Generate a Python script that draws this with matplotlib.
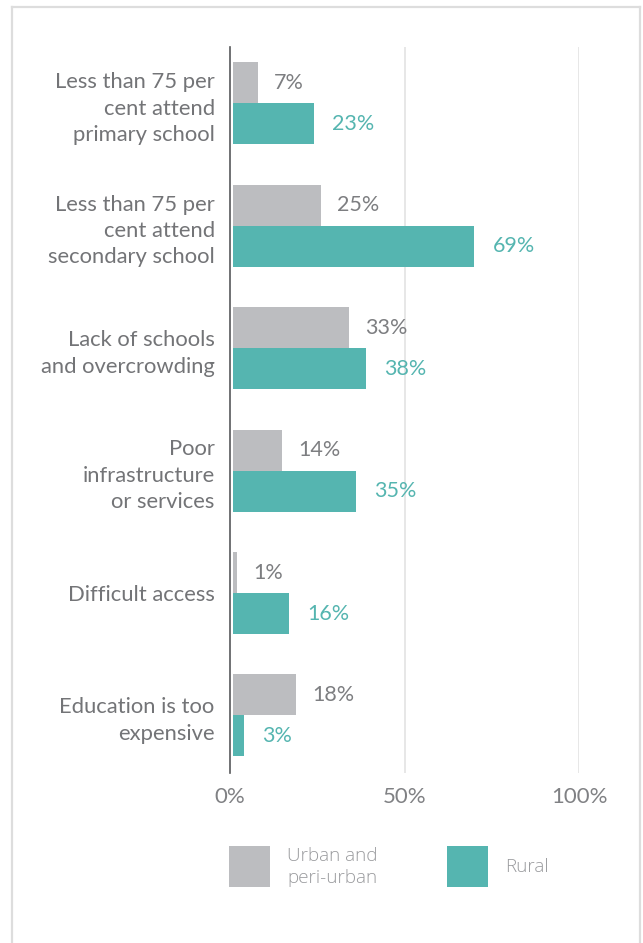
import matplotlib.pyplot as plt
from matplotlib.patches import Rectangle
import numpy as np

categories = ["Less than 75 per\ncent attend\nprimary school",
              "Less than 75 per\ncent attend\nsecondary school",
              "Lack of schools\nand overcrowding",
              "Poor\ninfrastructure\nor services",
              "Difficult access",
              "Education is too\nexpensive"]
urban = [7, 25, 33, 14, 1, 18]
rural = [23, 69, 38, 35, 16, 3]
series_names = ["Urban and\nperi-urban", "Rural"]
x_ticks = [0, 50, 100]

GREY = "#bcbdc0"
TEAL = "#55b5b0"
TEXT = "#737477"

plt.rcParams['font.family'] = ['Lato', 'DejaVu Sans']

fig = plt.figure(figsize=(6.43, 9.43), dpi=100)

# light frame round the panel (open at the bottom)
fig.add_artist(plt.Line2D([11.5/643, 11.5/643], [0, 1 - 6.5/943], transform=fig.transFigure,
                          color="#dddddd", lw=1.6))
fig.add_artist(plt.Line2D([639.5/643, 639.5/643], [0, 1 - 6.5/943], transform=fig.transFigure,
                          color="#dddddd", lw=1.6))
fig.add_artist(plt.Line2D([11.5/643, 639.5/643], [1 - 6.5/943, 1 - 6.5/943], transform=fig.transFigure,
                          color="#dddddd", lw=1.6))

ax = fig.add_axes([230/643, 1 - 773/943, 349/643, 726/943])

y = np.arange(len(categories))
h = 0.335
ax.barh(y - h/2, urban, height=h, color=GREY, left=1)
ax.barh(y + h/2, rural, height=h, color=TEAL, left=1)

for yi, u, r in zip(y, urban, rural):
    ax.text(u + 1 + 4.6, yi - h/2, f"{u}%", va="center", ha="left", fontsize=15.5, color="#7d7e81")
    ax.text(r + 1 + 5.2, yi + h/2, f"{r}%", va="center", ha="left", fontsize=15.5, color=TEAL)

ax.set_ylim(5.47, -0.46)
ax.set_xlim(0, 100)
ax.set_yticks(y)
ax.set_yticklabels(categories, fontsize=15.8, color=TEXT, linespacing=1.4)
ax.set_xticks(x_ticks)
ax.set_xticklabels([f"{t}%" for t in x_ticks], fontsize=16, color="#808184")
ax.tick_params(axis="both", length=0)
ax.tick_params(axis="y", pad=11)
ax.tick_params(axis="x", pad=10)
for t in x_ticks[1:]:
    ax.axvline(t, color="#e3e3e3", lw=1.2, zorder=0)
for s in ["top", "right", "bottom"]:
    ax.spines[s].set_visible(False)
ax.spines["left"].set_color("#58595b")
ax.spines["left"].set_linewidth(1.2)

# legend drawn as swatches plus labels
leg = fig.add_axes([0, 0, 1, 1], facecolor="none")
leg.set_xlim(0, 643)
leg.set_ylim(943, 0)
leg.axis("off")
for x0, col, name in zip([229, 447], [GREY, TEAL], series_names):
    leg.add_patch(Rectangle((x0, 846), 41, 41, color=col, lw=0))
    leg.text(x0 + 58, 867, name, va="center", ha="left", fontsize=13.6, color="#9a9b9e",
             family=["Open Sans", "DejaVu Sans"], fontweight="light", linespacing=1.35)

fig.savefig("out.png", dpi=100)
